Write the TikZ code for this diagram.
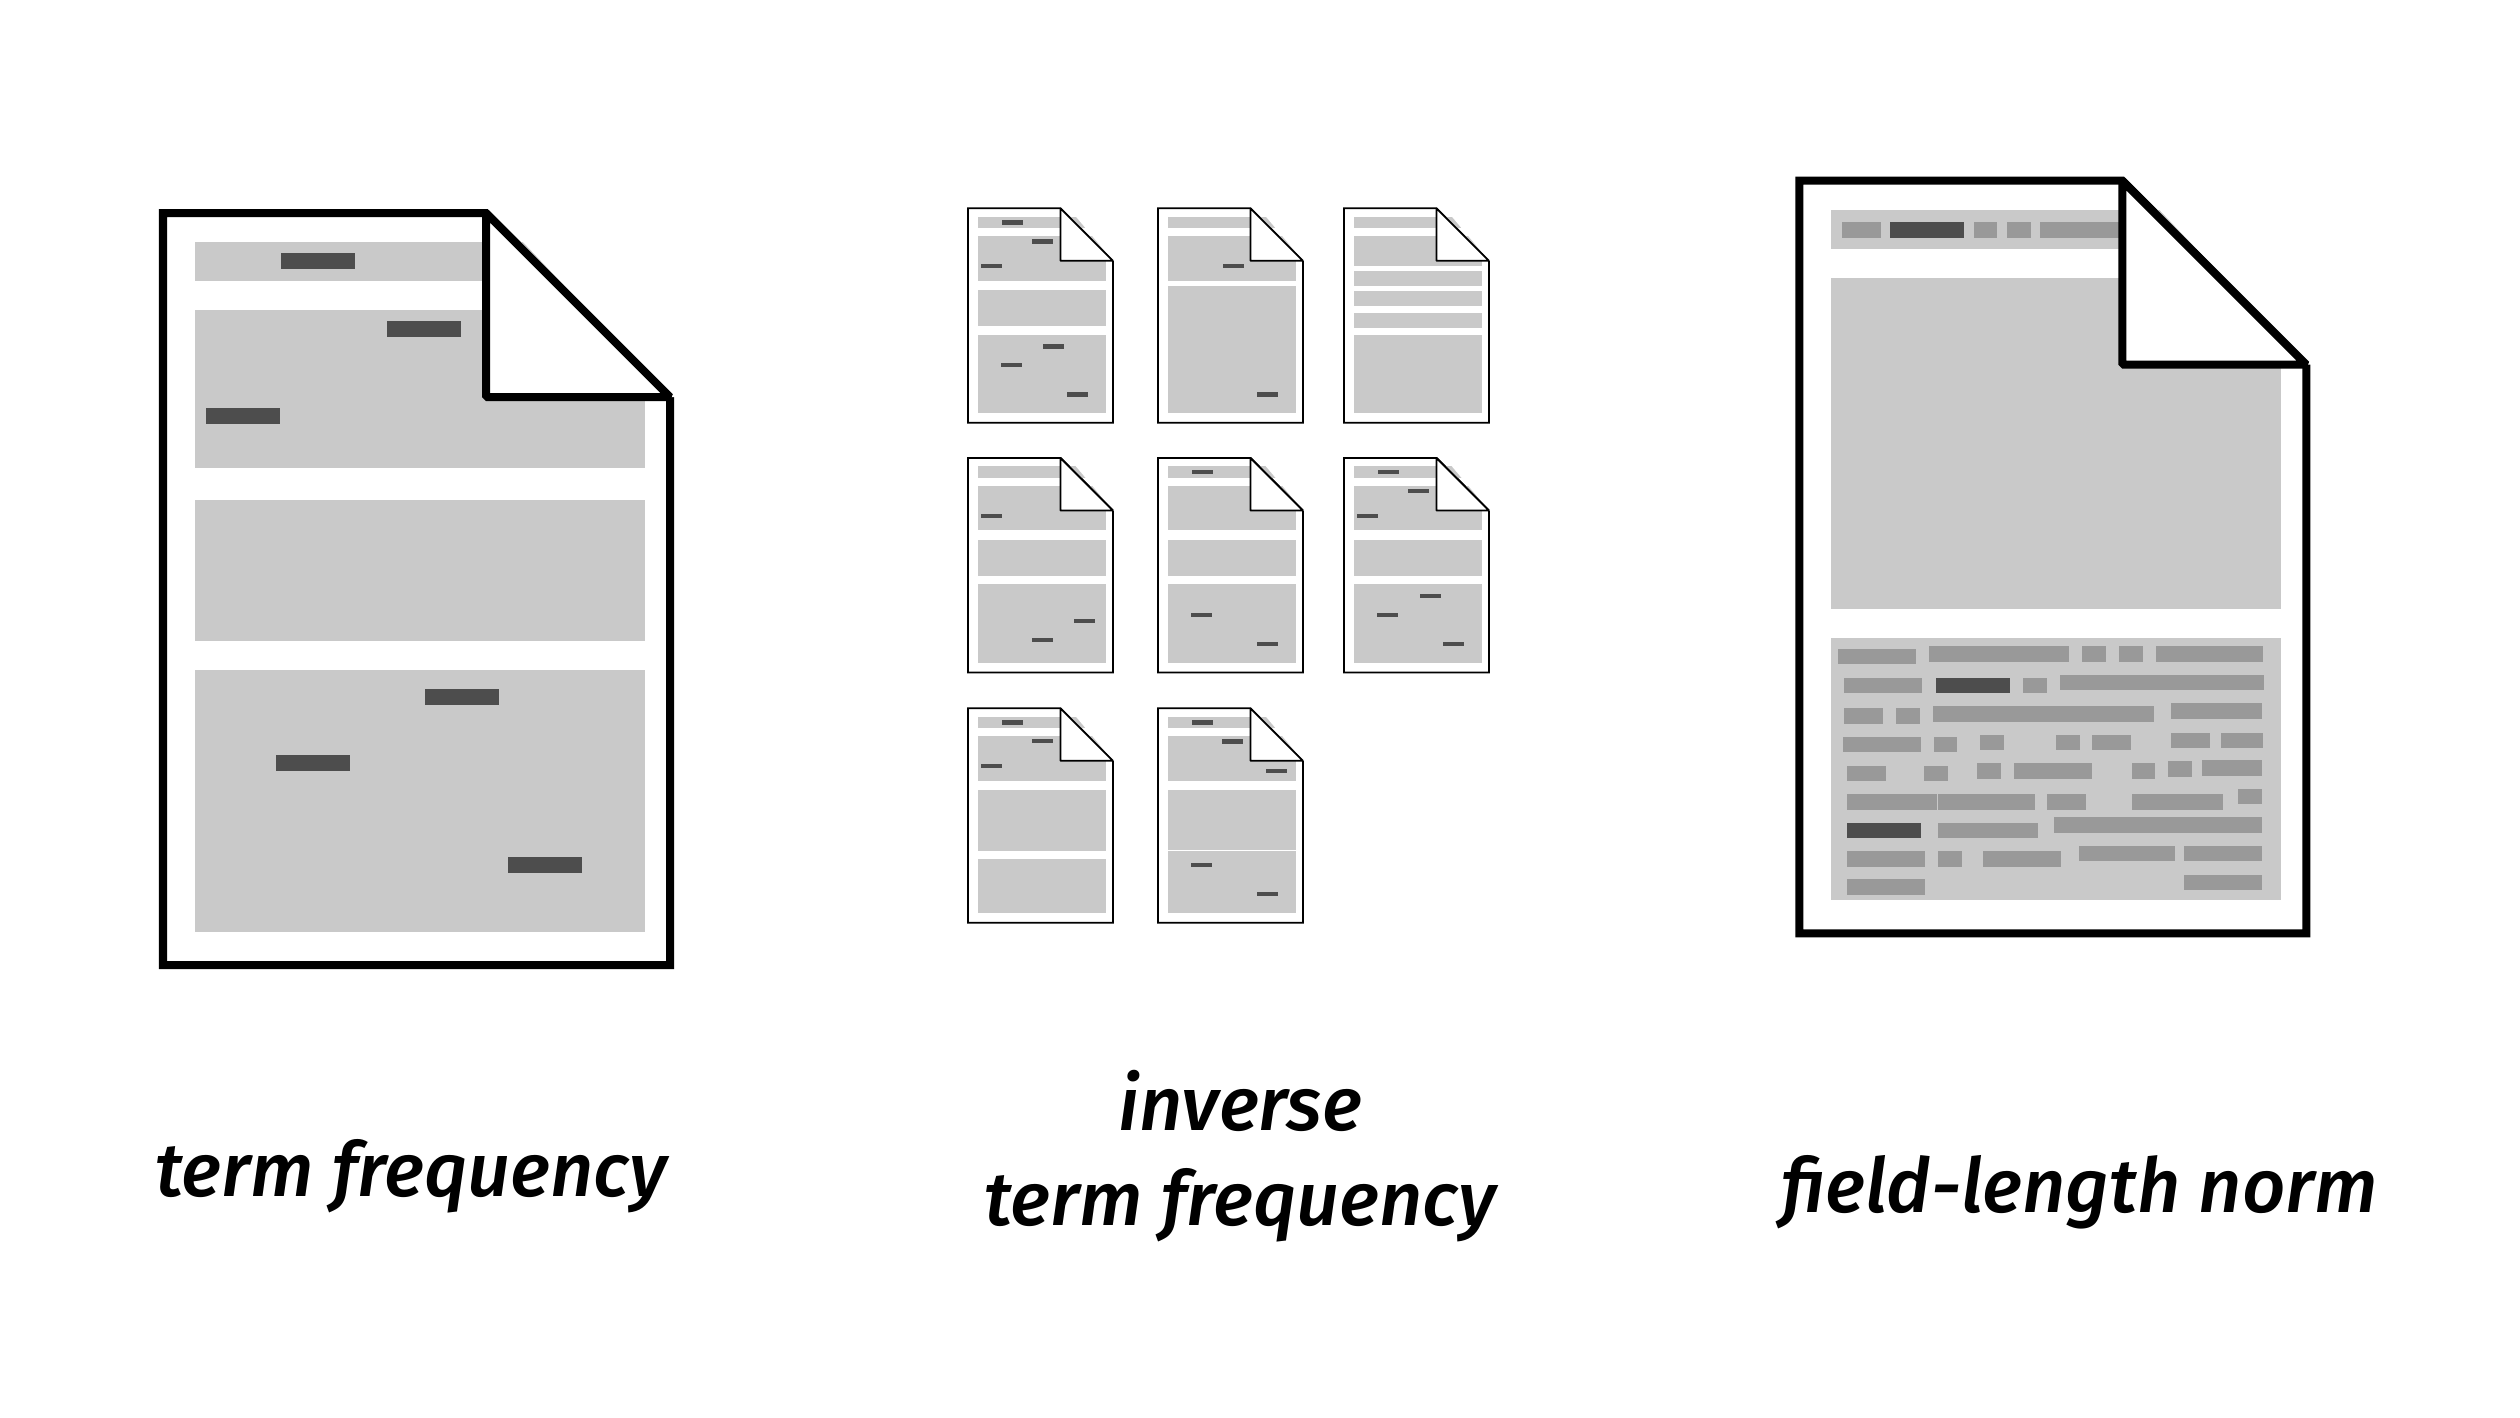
\documentclass[tikz,border=0pt]{standalone}
\usepackage{fontspec}
\setmainfont{Fira Sans}[ItalicFont={Fira Sans Medium Italic}]
\tikzset{
  x=0.01cm, y=-0.01cm,
  sheet/.style={draw=black, fill=white},
  bigsheet/.style={sheet, line width=0.08cm},
  tinysheet/.style={sheet, line width=0.018cm},
  block/.style={fill=blockgrey},
  termbar/.style={fill=termdark},
  wordbar/.style={fill=wordgrey},
  caption/.style={font=\fontsize{21.5}{27}\selectfont\itshape, align=center, anchor=center, inner sep=0pt, text=black},
}
\definecolor{blockgrey}{HTML}{C9C9C9}
\definecolor{termdark}{HTML}{4D4D4D}
\definecolor{wordgrey}{HTML}{999999}
% sheet outline only: width, height, fold, style
\newcommand{\sheetbody}[4]{\draw[#4] (0,0) -- (#1-#3,0) -- (#1,#3) -- (#1,#2) -- (0,#2) -- cycle;}
% white corner, then the folded flap
\newcommand{\sheetfold}[4]{
  \fill[white] (#1-#3,-10) -- (#1+10,-10) -- (#1+10,#3) -- (#1,#3) -- cycle;
  \draw[#4, line join=bevel] (#1-#3,0) -- (#1,#3) -- (#1-#3,#3) -- cycle;
}
% tiny sheet at #1,#2 with its block list #3 and term bar list #4
\newcommand{\tinydoc}[4]{
  \begin{scope}[shift={(#1,#2)}]
    \sheetbody{145}{214.4}{52.5}{tinysheet}
    \foreach \ya/\yb in {#3} \fill[block] (9.6,\ya) rectangle (138,\yb);
    \foreach \bx/\by in {#4} \fill[termbar] (\bx,\by-2.2) rectangle (\bx+21,\by+2.2);
    \sheetfold{145}{214.4}{52.5}{tinysheet}
  \end{scope}
}
\begin{document}
\begin{tikzpicture}
  \useasboundingbox (0,0) rectangle (2520,1417);

  % left sheet
  \begin{scope}[shift={(163,213)}]
    \sheetbody{507}{752}{184}{bigsheet}
  \end{scope}
  \foreach \ya/\yb in {242/281, 310/468, 500/641, 670/932} \fill[block] (195,\ya) rectangle (645,\yb);
  \foreach \bx/\by in {281/253, 387/321, 206/408, 425/689, 276/755, 508/857} \fill[termbar] (\bx,\by) rectangle (\bx+74,\by+16);
  \begin{scope}[shift={(163,213)}]
    \sheetfold{507}{752}{184}{bigsheet}
  \end{scope}

  % middle sheets
  \tinydoc{968}{208.3}{8.3/19.7, 27.7/72.3, 81.7/117.7, 126.3/204.7}{34.3/14, 64.3/33, 12.9/57.7, 75/138, 32.9/156.7, 98.6/186}
  \tinydoc{1158}{208.3}{8.3/19.7, 27.7/72.3, 77.7/204.7}{64.6/57.7, 98.6/186}
  \tinydoc{1344}{208.3}{8.3/19.7, 27.7/57.7, 62.7/77.7, 83/98, 104.7/119.7, 126.3/204.7}{}
  \tinydoc{968}{458}{8.3/19.7, 27.7/72.3, 81.7/117.7, 126.3/204.7}{12.9/58, 106/163, 64/182}
  \tinydoc{1158}{458}{8.3/19.7, 27.7/72.3, 81.7/117.7, 126.3/204.7}{34/14, 33/157, 98.6/186}
  \tinydoc{1344}{458}{8.3/19.7, 27.7/72.3, 81.7/117.7, 126.3/204.7}{34/14, 64.3/33, 13/58, 75.6/138, 33/157, 98.6/186}
  \tinydoc{968}{708.3}{8.3/19.3, 27.7/72.3, 81.7/142.7, 151/204.3}{34/14, 64.3/32.7, 13/57.7}
  \tinydoc{1158}{708.3}{8.3/19.3, 27.7/72.3, 81.7/142, 142.3/204.3}{34/14, 64/33, 108/62.7, 33/156.7, 98.6/185.7}

  % right sheet
  \begin{scope}[shift={(1799.3,180.7)}]
    \sheetbody{507}{752.6}{184}{bigsheet}
  \end{scope}
  \foreach \ya/\yb in {210/249.3, 278/608.7, 638/900} \fill[block] (1831,\ya) rectangle (2281,\yb);
  \foreach \xa/\xb in {1842/1881, 1973.5/1997.3, 2007/2030.7, 2040/2122} \fill[wordbar] (\xa,222) rectangle (\xb,237.7);
  \fill[termbar] (1889.8,222) rectangle (1963.9,237.7);
  \foreach \xa/\xb/\ya/\yb in {
    1837.9/1915.7/649/664.3, 1928.8/2068.9/646/661.7, 2082/2106.1/646/661.7, 2118.8/2142.6/646/661.7, 2155.7/2168.1/646/661.7, 2168.4/2263.1/646/661.7,
    1844.4/1922.2/677.7/693, 2023.1/2046.5/677.7/693, 2060/2263.8/674.7/690.3,
    1844.4/1883/708.3/723.7, 1896/1919.8/708.3/723.7, 1932.9/2154/706/721.7, 2170.8/2262.4/703.3/719,
    1842.7/1920.5/737/752.3, 1933.6/1957.3/737/752.3, 1980/2003.8/734.7/750, 2055.5/2079.6/734.7/750, 2092.3/2130.9/734.7/750, 2171.2/2210.1/732.7/748, 2221.1/2262.8/732.7/748,
    1847.1/1885.7/765.7/781, 1924.3/1948/765.7/781, 1977/2000.7/763.3/778.7, 2013.5/2091.6/763.3/778.7, 2131.6/2155.3/763.3/778.7, 2168.4/2191.8/761/776.7, 2201.8/2262.1/760.3/775.7,
    1847.1/1937.4/794/809.7, 1937.7/2034.8/794/809.7, 2046.9/2086.1/794/809.7, 2131.9/2223.2/794/809.7, 2238.3/2262.1/789/804.3,
    1937.7/2037.6/822.7/838, 2054.1/2262.1/817.3/832.7,
    1847.1/1925/851/866.7, 1938.1/1961.5/851/866.7, 1983.2/2061.3/851/866.7, 2079.2/2175.3/846/861.3, 2183.9/2262.1/846/861.3,
    1847.1/1925/879.3/894.7, 2183.9/2262.1/874.7/890}
    \fill[wordbar] (\xa,\ya) rectangle (\xb,\yb);
  \fill[termbar] (1935.6,677.7) rectangle (2009.7,693);
  \fill[termbar] (1847.1,822.7) rectangle (1920.8,838);
  \begin{scope}[shift={(1799.3,180.7)}]
    \sheetfold{507}{752.6}{184}{bigsheet}
  \end{scope}

  % captions
  \node[caption] (tf) at (411,1176) {term frequency};
  \node[caption] (idf) at (1240,1156) {inverse\\term frequency};
  \node[caption] (norm) at (2080,1192) {field-length norm};
\end{tikzpicture}
\end{document}
